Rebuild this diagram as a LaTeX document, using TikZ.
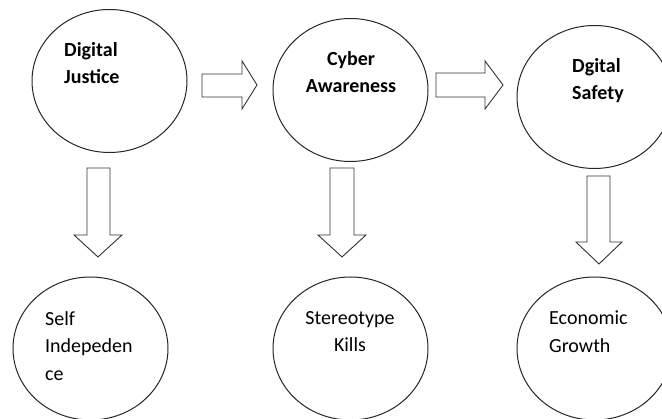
\documentclass[tikz,border=0pt]{standalone}
\usepackage{fontspec}
\setmainfont{Carlito}
\usetikzlibrary{shapes.geometric}
\begin{document}
\begin{tikzpicture}[x=1pt,y=-1pt,
  circ/.style={draw=black!85, line width=1pt, ellipse, inner sep=0pt, minimum width=155pt, minimum height=143pt},
  lbl/.style={inner sep=0pt, font=\fontsize{20}{27.5}\selectfont},
  blbl/.style={lbl, font=\fontsize{20}{27.5}\selectfont\bfseries},
  barrow/.style={draw=black!80, line width=0.9pt, fill=white, line join=miter}]
\useasboundingbox (0,0) rectangle (662,419);
% top ellipses
\node[circ] (dj) at (109.5,81) {};
\node[circ] (ca) at (350.5,90) {};
\node[circ] (ds) at (594.5,97) {};
% bottom ellipses
\node[circ] (si) at (90.5,348.5) {};
\node[circ] (sk) at (350.5,348.5) {};
\node[circ] (eg) at (594.5,348.5) {};
% labels
\node[blbl, align=left, anchor=north west] (tdj) at (64,42) {Digital\\Justice};
\node[blbl, align=center, anchor=north] (tca) at (351,51) {Cyber\\Awareness};
\node[blbl, align=left, anchor=north west] (tds) at (572,58) {Dgital\\Safety};
\node[lbl, align=left, anchor=north west] (tsi) at (45,311) {Self\\Indepeden\\ce};
\node[lbl, align=center, anchor=north] (tsk) at (350,311) {Stereotype\\Kills};
\node[lbl, align=left, anchor=north west] (teg) at (549,311) {Economic\\Growth};
% block arrows
\draw[barrow] (202,74) -- (242,74) -- (242,61) -- (257,85) -- (242,109) -- (242,97) -- (202,97) -- cycle;
\draw[barrow] (436,73) -- (485,73) -- (485,61) -- (503,85) -- (485,109) -- (485,97) -- (436,97) -- cycle;
\draw[barrow] (87,168) -- (110,168) -- (110,235) -- (122,235) -- (98,257) -- (74,235) -- (87,235) -- cycle;
\draw[barrow] (330,168) -- (354,168) -- (354,235) -- (366,235) -- (342,257) -- (318,235) -- (330,235) -- cycle;
\draw[barrow] (587,176) -- (610,176) -- (610,242) -- (622,242) -- (599,264) -- (576,242) -- (587,242) -- cycle;
\end{tikzpicture}
\end{document}
